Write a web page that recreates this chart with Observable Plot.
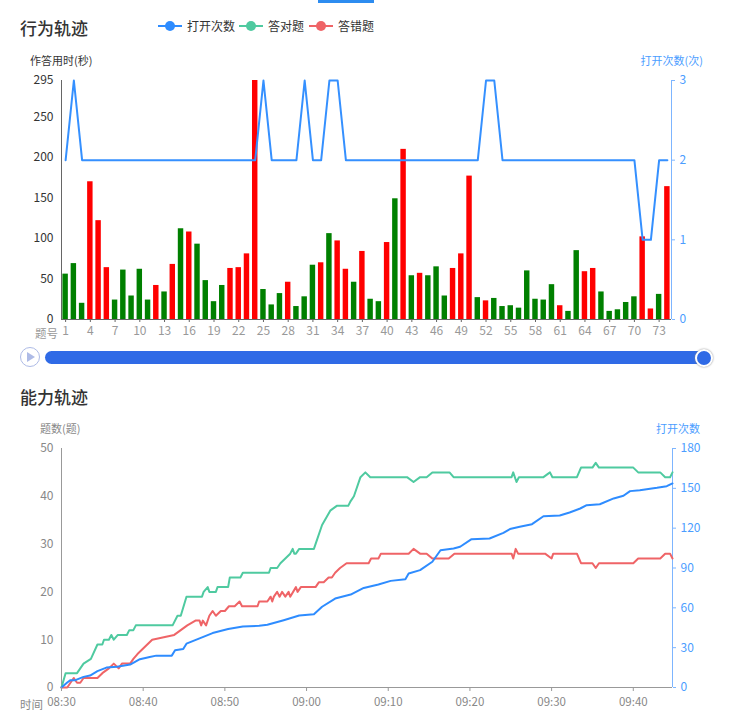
<!DOCTYPE html>
<html><head><meta charset="utf-8">
<script src="https://cdn.jsdelivr.net/npm/d3@7"></script>
<script src="https://cdn.jsdelivr.net/npm/@observablehq/plot@0.6"></script>
<style>
body{margin:0;background:#fff;font-family:"Noto Sans CJK SC","Noto Sans",sans-serif;}
#page{position:relative;width:734px;height:726px;overflow:hidden;}
.abs{position:absolute;white-space:nowrap;}
.title{font-size:17px;font-weight:500;color:#333;line-height:20px;}
.lbl{font-size:11px;line-height:14px;}
#top,#bottom{position:absolute;left:0;}
#top{top:60px;} #bottom{top:428px;}
.leg{position:absolute;top:19px;height:14px;font-size:12px;line-height:14px;color:#333;}
.leg i{display:inline-block;position:relative;width:24px;height:14px;vertical-align:top;margin-right:5px;}
.leg i:before{content:"";position:absolute;left:0;top:6px;width:24px;height:2px;background:var(--c);}
.leg i:after{content:"";position:absolute;left:7px;top:2px;width:10px;height:10px;border-radius:50%;background:var(--c);}
</style></head>
<body><div id="page">
<div class="abs" style="left:318px;top:0;width:56px;height:3px;background:#2d8cf0;"></div>
<div class="abs title" style="left:20px;top:18px;">行为轨迹</div>
<div class="leg" style="left:158px;"><i style="--c:#2e8cff"></i>打开次数</div>
<div class="leg" style="left:239px;"><i style="--c:#4fcaa0"></i>答对题</div>
<div class="leg" style="left:309px;"><i style="--c:#ef6467"></i>答错题</div>
<div class="abs lbl" style="left:30px;top:53px;color:#333;">作答用时(秒)</div>
<div class="abs lbl" style="right:31px;top:53px;color:#4b9dff;">打开次数(次)</div>
<div class="abs" style="left:35px;top:326px;font-size:11.5px;line-height:15px;color:#999;">题号</div>
<div id="top"></div>
<div class="abs" style="left:20px;top:347px;width:18px;height:18px;border:1.5px solid #aebbe6;border-radius:50%;background:#fff;"></div>
<div class="abs" style="left:27px;top:352px;width:0;height:0;border-left:8px solid #aebbe6;border-top:5px solid transparent;border-bottom:5px solid transparent;"></div>
<div class="abs" style="left:45px;top:351px;width:660px;height:13px;border-radius:7px;background:#2f6ae6;"></div>
<div class="abs" style="left:695px;top:349px;width:14px;height:14px;border-radius:50%;background:#2f6ae6;border:2px solid #fff;box-shadow:0 0 2px #888;"></div>
<div class="abs title" style="left:20px;top:387px;">能力轨迹</div>
<div class="abs lbl" style="left:40px;top:421px;color:#888;">题数(题)</div>
<div class="abs lbl" style="right:34px;top:421px;color:#4b9dff;">打开次数</div>
<div class="abs" style="right:691px;top:697px;font-size:11.5px;line-height:15px;color:#888;">时间</div>
<div id="bottom"></div>
</div>
<script>
// ---- 行为轨迹 data ----
const questions = d3.range(1, 75);
const answerTimes = [56,69,20,170,122,64,24,61,29,62, 24,42,34,68,112,108,93,48,22,42,
  63,64,81,295,37,18,32,46,16,28, 67,70,106,97,62,46,84,25,22,95,
  149,210,54,57,54,65,29,63,81,177, 27,23,26,16,17,14,60,25,24,43,
  17,10,85,59,63,34,10,12,21,28, 102,13,31,164];
const results = ("GGGRRRGGGG"+"GRGRGRGGGG"+"RRRRGGGRGG"+"GRGRRGRGGR"+"GRGRGGGRRR"+
  "GRGGGGGGGG"+"RGGRRGGGGG"+"RRGR").split("").map(c => c === "G" ? "答对题" : "答错题");
const openCounts = [2,3,2,2,2,2,2,2,2,2, 2,2,2,2,2,2,2,2,2,2, 2,2,2,2,3,2,2,2,2,3,
  2,2,3,3,2,2,2,2,2,2, 2,2,2,2,2,2,2,2,2,2, 2,3,3,2,2,2,2,2,2,2,
  2,2,2,2,2,2,2,2,2,2, 1,1,2,2];
const timeTicks = [0,50,100,150,200,250,295];
const openTicks = [0,1,2,3];
const qTicks = d3.range(1, 75, 3);

// ---- 能力轨迹 data (minutes after 08:30, value) ----
const correctMin = [0,0.5,1.9,2.3,2.7,3.6,4.4,5.0,5.2,5.8,6.1,6.4,6.9,8.0,8.3,8.8,9.1,13.6,14.2,14.6,15.3,17.2,17.4,17.9,18.1,18.9,19.1,20.4,20.6,21.9,22.2,25.4,25.6,26.4,26.8,27.4,28.0,28.3,28.5,28.7,29.1,30.9,31.1,31.9,32.9,33.7,35.1,35.4,35.8,36.6,37.2,37.8,42.3,43.1,43.9,44.7,45.4,47.5,48.0,55.1,55.3,55.7,56.0,59.0,59.8,60.1,63.1,63.6,65.0,65.4,65.8,70.0,70.6,73.3,73.9,74.5,74.8];
const correctVal = [0,3,3,4,5,6,9,9,10,10,11,10,11,11,12,12,13,13,15,15,19,19,20,21,20,20,21,21,23,23,24,24,25,25,26,27,28,29,28,28,29,29,30,34,37,38,38,39,40,44,45,44,44,43,44,44,45,45,44,44,45,43,44,44,45,44,44,46,46,47,46,46,45,45,44,44,45];
const wrongMin = [0,0.7,1.5,1.9,2.3,2.7,4.4,5.0,5.8,6.4,7.0,7.4,8.4,8.8,9.3,9.9,11.1,13.8,14.6,15.4,16.4,16.9,17.1,17.3,17.7,18.1,18.5,18.9,19.5,20.0,20.5,21.2,21.8,22.1,24.0,24.2,25.2,25.6,25.8,26.0,26.4,26.7,27.0,27.4,27.8,28.0,28.7,28.9,29.3,31.1,31.5,32.1,32.7,33.1,33.5,34.1,34.9,37.6,37.9,38.8,39.1,42.5,43.1,43.9,44.7,45.4,47.4,48.1,55.1,55.3,55.6,55.9,59.2,60.0,60.2,63.1,63.6,65.0,65.4,65.8,70.0,70.6,73.3,73.9,74.5,74.8];
const wrongVal = [0,0,2,1,1,2,2,3,4,5,4,5,5,6,7,8,10,11,12,13,14,14,13,14,13,15,16,15,16,16,17,17,18,17,17,18,18,19,18,19,20,19,20,19,20,19,21,20,21,21,22,22,23,23,24,25,26,26,27,27,28,28,29,28,28,27,27,28,28,27,29,28,28,27,28,28,26,26,25,26,26,27,27,28,28,27];
const openMin = [0,0.7,1.1,1.7,2.7,3.5,4.4,5.5,6.8,8.4,9.6,10.8,11.6,13.5,13.9,14.9,15.3,16.9,18.5,20.4,22.2,24.2,25.2,27.2,29.1,30.9,31.9,33.5,35.4,37.0,38.8,40.3,42.1,42.5,43.9,45.4,46.4,48.0,48.8,50.2,52.4,54.1,54.9,56.1,57.6,59.0,61.0,62.2,63.5,64.3,65.9,67.6,68.8,69.6,70.8,72.9,74.1,74.8];
const openVal = [0,3.8,5.5,5.5,8,9,12.3,15,15.6,17.3,21.3,23,24,24,28,29,33,37,41,44,46,46.5,47.2,50.7,54.2,55.2,60.8,67,70,75,77.6,80.3,81.6,85.9,88.4,94.7,103.4,104.7,106,111.7,112.2,116.5,119.3,121,123,129,129.5,131.8,134.8,137.3,138,142.4,144.4,147.9,148.6,150.4,151.6,153.7];
const countTicks = [0,10,20,30,40,50];
const openTicks2 = [0,30,60,90,120,150,180];

const FONT = '"Noto Sans CJK SC","Noto Sans",sans-serif';

// ---- top chart ----
const topData = questions.map((q, i) => ({q, t: answerTimes[i], r: results[i], o: openCounts[i]}));
const kTop = 295 / 3;
const topPlot = Plot.plot({
  width: 734, height: 285, marginTop: 20, marginBottom: 26, marginLeft: 61, marginRight: 63,
  style: {fontFamily: FONT, fontSize: "12px", background: "transparent", overflow: "visible"},
  x: {domain: [0.5, 74.5], axis: null},
  y: {domain: [0, 295], axis: null},
  color: {domain: ["答对题", "答错题"], range: ["#008000", "#ff0000"]},
  marks: [
    Plot.rectY(topData, {x1: d => d.q - 0.5, x2: d => d.q + 0.5, y: "t", fill: "r", insetLeft: 1.4, insetRight: 1.4}),
    Plot.line(topData, {x: "q", y: d => d.o * kTop, stroke: "#3590ff", strokeWidth: 2}),
    Plot.ruleY([0], {stroke: "#666", strokeWidth: 1}),
    Plot.ruleX([0.5], {stroke: "#666", strokeWidth: 1}),
    Plot.ruleX([74.5], {stroke: "#7db5ff", strokeWidth: 1}),
    Plot.axisX({ticks: qTicks, label: null, tickSize: 3, tickPadding: 4, stroke: "#666", color: "#999", fontSize: 12}),
    Plot.axisY({ticks: timeTicks, label: null, tickSize: 0, tickPadding: 8, color: "#333", fontSize: 12}),
    Plot.axisY({anchor: "right", label: null, ticks: openTicks.map(v => v * kTop), tickFormat: d => Math.round(d / kTop),
      tickSize: 3, tickPadding: 5, stroke: "#7db5ff", color: "#4b9dff", fontSize: 12})
  ]
});
document.getElementById("top").append(topPlot);

// ---- bottom chart ----
const t0 = Date.UTC(2024, 0, 1, 8, 30);
const toDate = m => new Date(t0 + m * 60000);
const series = (ms, vs) => ms.map((m, i) => ({t: toDate(m), v: vs[i]}));
const correct = series(correctMin, correctVal);
const wrong = series(wrongMin, wrongVal);
const kB = 50 / 180;
const opens = series(openMin, openVal);
const botPlot = Plot.plot({
  width: 734, height: 290, marginTop: 20, marginBottom: 31, marginLeft: 61, marginRight: 62,
  style: {fontFamily: FONT, fontSize: "12px", background: "transparent", overflow: "visible"},
  x: {type: "utc", domain: [toDate(0), toDate(74.8)], axis: null},
  y: {domain: [0, 50], axis: null},
  marks: [
    Plot.ruleY([0], {stroke: "#999"}),
    Plot.ruleX([toDate(0)], {stroke: "#999"}),
    Plot.ruleX([toDate(74.8)], {stroke: "#7db5ff"}),
    Plot.line(correct, {x: "t", y: "v", stroke: "#4fcaa0", strokeWidth: 2}),
    Plot.line(wrong, {x: "t", y: "v", stroke: "#ef6467", strokeWidth: 2}),
    Plot.line(opens, {x: "t", y: d => d.v * kB, stroke: "#2e8cff", strokeWidth: 2}),
    Plot.axisX({ticks: d3.utcMinute.every(10), label: null, tickFormat: d3.utcFormat("%H:%M"), tickSize: 4, tickPadding: 6, stroke: "#999", color: "#888", fontSize: 11.5}),
    Plot.axisY({ticks: countTicks, label: null, tickSize: 0, tickPadding: 8, color: "#888", fontSize: 12}),
    Plot.axisY({anchor: "right", label: null, ticks: openTicks2.map(v => v * kB), tickFormat: d => Math.round(d / kB),
      tickSize: 3, tickPadding: 5, stroke: "#7db5ff", color: "#4b9dff", fontSize: 12})
  ]
});
document.getElementById("bottom").append(botPlot);
</script>
</body></html>
